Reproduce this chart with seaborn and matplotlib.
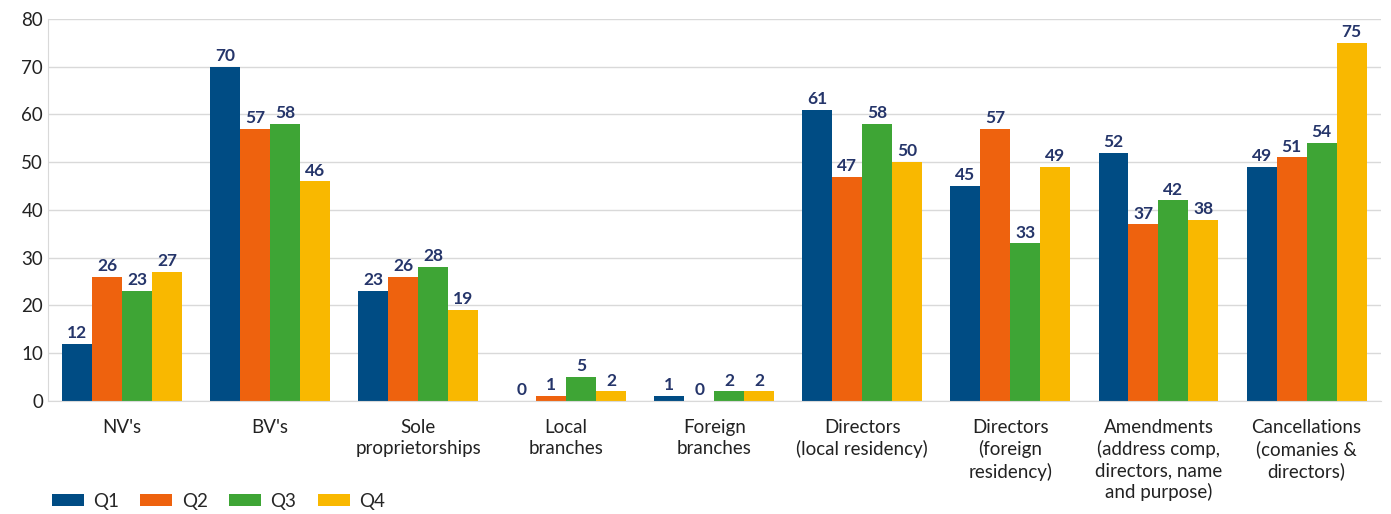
import pandas as pd
import numpy as np
import seaborn as sns
import matplotlib.pyplot as plt

categories = ["NV's", "BV's", "Sole\nproprietorships", "Local\nbranches", "Foreign\nbranches",
              "Directors\n(local residency)", "Directors\n(foreign\nresidency)",
              "Amendments\n(address comp,\ndirectors, name\nand purpose)",
              "Cancellations\n(comanies &\ndirectors)"]
quarters = ["Q1", "Q2", "Q3", "Q4"]
q1 = [12, 70, 23, 0, 1, 61, 45, 52, 49]
q2 = [26, 57, 26, 1, 0, 47, 57, 37, 51]
q3 = [23, 58, 28, 5, 2, 58, 33, 42, 54]
q4 = [27, 46, 19, 2, 2, 50, 49, 38, 75]
colors = ["#004C84", "#EE620E", "#3EA535", "#F9B800"]

df = pd.DataFrame({'category': categories * 4,
                   'quarter': np.repeat(quarters, len(categories)),
                   'value': q1 + q2 + q3 + q4})

sns.set_style('white')
plt.rcParams['font.family'] = ['Lato', 'DejaVu Sans']

fig = plt.figure(figsize=(13.91, 5.14), dpi=100)
ax = fig.add_axes([0.0345, 0.22, 0.958, 0.743])
sns.barplot(data=df, x='category', y='value', hue='quarter', palette=colors,
            width=0.81, saturation=1, linewidth=0, ax=ax, legend=True)

for c in ax.containers:
    ax.bar_label(c, padding=2, fontsize=12.5, fontweight='bold', color='#25356A')

ax.set_ylim(0, 80)
ax.set_yticks(range(0, 81, 10))
ax.set_xlim(-0.5, len(categories) - 0.5)
ax.yaxis.grid(True, color='#D9D9D9', linewidth=1)
ax.set_axisbelow(True)
ax.set_xlabel('')
ax.set_ylabel('')
ax.tick_params(axis='both', labelsize=13.5, colors='#222222', length=0)
ax.tick_params(axis='x', pad=13)
for lbl in ax.get_xticklabels():
    lbl.set_linespacing(1.28)
for s in ['top', 'right']:
    ax.spines[s].set_visible(False)
for s in ['left', 'bottom']:
    ax.spines[s].set_color('#D9D9D9')

handles, labels = ax.get_legend_handles_labels()
ax.get_legend().remove()
fig.legend(handles, labels, loc='lower left', bbox_to_anchor=(0.025, -0.025), ncol=4,
           frameon=False, fontsize=13.5, handlelength=1.7, handleheight=0.6,
           columnspacing=1.15, handletextpad=0.5)

fig.savefig('out.png', dpi=100)
